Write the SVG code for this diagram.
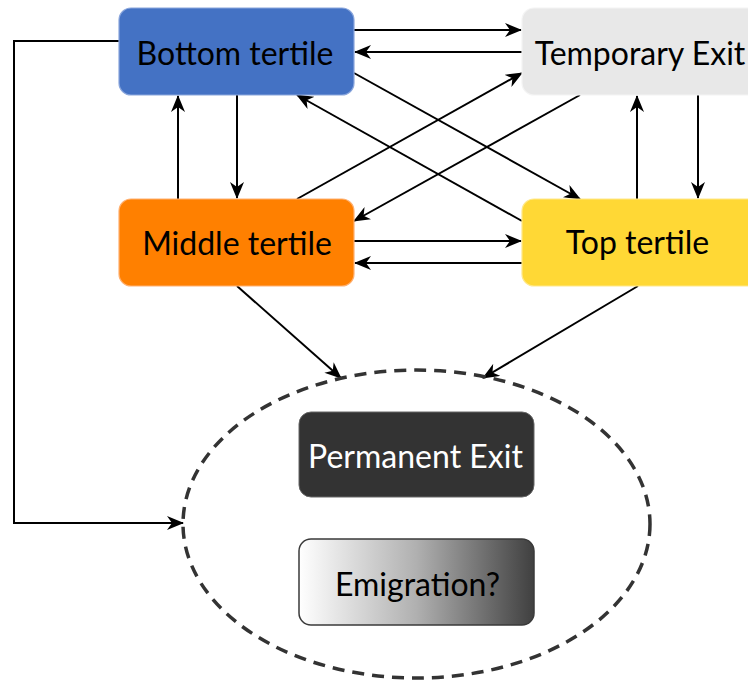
<svg xmlns="http://www.w3.org/2000/svg" width="748" height="684" viewBox="0 0 748 684">
<style>
.lbl{font-family:Lato,"Noto Sans","DejaVu Sans",sans-serif;font-size:32px;text-anchor:middle}
.box{stroke-width:1.2}
.c{stroke:#000;stroke-width:2;fill:none;marker-end:url(#ah)}
</style>
<defs>
<marker id="ah" markerUnits="userSpaceOnUse" markerWidth="18" markerHeight="14" refX="16" refY="7" orient="auto" viewBox="0 0 18 14">
<path d="M0,0 L17,7 L0,14 L5,7 Z" fill="#000"/>
</marker>
<linearGradient id="emg" x1="0" y1="0" x2="1" y2="0">
<stop offset="0" stop-color="#ffffff"/>
<stop offset="0.5" stop-color="#b0b0b0"/>
<stop offset="1" stop-color="#404040"/>
</linearGradient>
</defs>
<rect width="748" height="684" fill="#fff"/>
<g id="connectors">
<line class="c" x1="354" y1="30" x2="521" y2="30"/>
<line class="c" x1="522" y1="52" x2="355" y2="52"/>
<line class="c" x1="354" y1="73" x2="580" y2="199"/>
<line class="c" x1="522" y1="221" x2="297" y2="95"/>
<line class="c" x1="297" y1="199" x2="522" y2="73"/>
<line class="c" x1="580" y1="95" x2="354" y2="221"/>
<line class="c" x1="178" y1="199" x2="178" y2="96"/>
<line class="c" x1="237" y1="95" x2="237" y2="198"/>
<line class="c" x1="637" y1="199" x2="637" y2="96"/>
<line class="c" x1="698" y1="95" x2="698" y2="198"/>
<line class="c" x1="354" y1="241" x2="521" y2="241"/>
<line class="c" x1="522" y1="263" x2="355" y2="263"/>
<line class="c" x1="237" y1="286" x2="341" y2="378"/>
<line class="c" x1="638" y1="286" x2="483" y2="378"/>
<polyline class="c" points="119,41 14,41 14,523 183,523"/>
</g>
<g id="emigration-region">
<ellipse cx="416.5" cy="524" rx="233.5" ry="154" fill="none" stroke="#333" stroke-width="3.5" stroke-dasharray="12 8"/>
</g>
<g id="bottom-tertile">
<rect class="box" x="119" y="8" width="235" height="87" rx="12" fill="#4472c4" stroke="#8aa6dc"/>
<text class="lbl" x="235" y="65">Bottom tertile</text>
</g>
<g id="temporary-exit">
<rect class="box" x="522" y="8" width="240" height="87" rx="12" fill="#e8e8e8" stroke="#f4f4f4"/>
<text class="lbl" x="640" y="65">Temporary Exit</text>
</g>
<g id="middle-tertile">
<rect class="box" x="119" y="199" width="235" height="87" rx="12" fill="#ff8000" stroke="#ffb070"/>
<text class="lbl" x="237" y="255">Middle tertile</text>
</g>
<g id="top-tertile">
<rect class="box" x="522" y="199" width="240" height="87" rx="12" fill="#ffd835" stroke="#ffe88a"/>
<text class="lbl" x="637.5" y="254">Top tertile</text>
</g>
<g id="permanent-exit">
<rect x="299" y="412" width="235" height="85" rx="12" fill="#333" stroke="#666" stroke-width="1"/>
<text class="lbl" x="415.5" y="468" fill="#fff">Permanent Exit</text>
</g>
<g id="emigration">
<rect x="299" y="539" width="235" height="86" rx="12" fill="url(#emg)" stroke="#3a3a3a" stroke-width="1.5"/>
<text class="lbl" x="417.5" y="596">Emigration?</text>
</g>
</svg>
